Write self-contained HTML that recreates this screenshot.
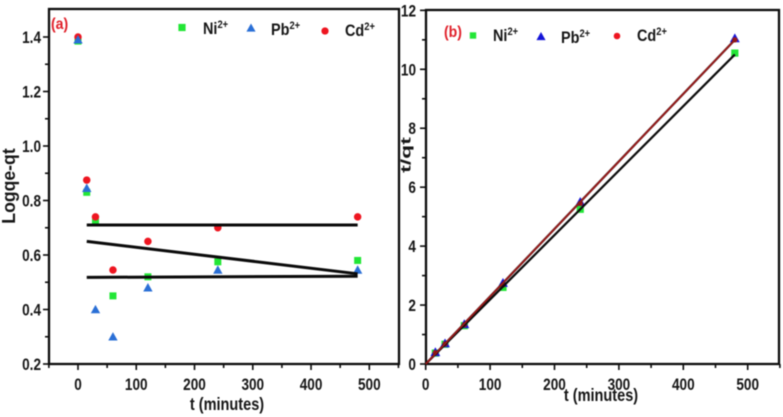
<!DOCTYPE html>
<html>
<head>
<meta charset="utf-8">
<style>
html,body{margin:0;padding:0;background:#fff;width:783px;height:417px;overflow:hidden}
svg{display:block;filter:blur(0.45px)}
text{font-family:"Liberation Sans",sans-serif;font-weight:700;fill:#161616}
</style>
</head>
<body>
<svg id="chart" width="783" height="417" viewBox="0 0 783 417" xmlns="http://www.w3.org/2000/svg"></svg>
<script>
const timesA = [0, 15, 30, 60, 120, 240, 480];
const niA = [1.385, 0.83, 0.72, 0.45, 0.52, 0.575, 0.58];
const pbA = [1.39, 0.845, 0.40, 0.30, 0.48, 0.545, 0.545];
const cdA = [1.40, 0.875, 0.74, 0.545, 0.65, 0.70, 0.74];
const fitTimesA = [15, 480];
const fitCdA = [0.71, 0.71];
const fitNiA = [0.65, 0.531];
const fitPbA = [0.518, 0.522];
const xTicksA = [0, 100, 200, 300, 400, 500];
const xMinorA = [-50, 50, 150, 250, 350, 450, 550];
const yTicksA = [0.2, 0.4, 0.6, 0.8, 1.0, 1.2, 1.4];
const yMinorA = [0.3, 0.5, 0.7, 0.9, 1.1, 1.3];

const timesB = [15, 30, 60, 120, 240, 480];
const niB = [0.37, 0.67, 1.3, 2.6, 5.25, 10.55];
const pbB = [0.4, 0.7, 1.35, 2.75, 5.5, 11.05];
const cdB = [0.38, 0.68, 1.33, 2.68, 5.45, 11.0];
const fitTimesB = [0, 480];
const fitNiB = [0, 10.5];
const fitPbB = [0, 11.0];
const fitCdB = [0, 11.0];
const xTicksB = [0, 100, 200, 300, 400, 500];
const xMinorB = [50, 150, 250, 350, 450, 550];
const yTicksB = [0, 2, 4, 6, 8, 10, 12];
const yMinorB = [1, 3, 5, 7, 9, 11];

const svg = document.getElementById('chart');
const NS = 'http://www.w3.org/2000/svg';

function make(tag, props, parent) {
  const el = document.createElementNS(NS, tag);
  for (const k in props) el.setAttribute(k, props[k]);
  (parent || svg).appendChild(el);
  return el;
}
function named(el, name) {
  
  
  return el;
}
function marker(kind, cx, cy, color, size, name) {
  let el;
  if (kind === 'square') {
    el = make('rect', {x: cx - size, y: cy - size, width: size * 2, height: size * 2, fill: color});
  } else if (kind === 'triangle') {
    const h = size * 1.2;
    el = make('polygon', {points: `${cx},${cy - h} ${cx + h},${cy + h * 0.8} ${cx - h},${cy + h * 0.8}`, fill: color});
  } else {
    el = make('circle', {cx: cx, cy: cy, r: size * 1.1, fill: color});
  }
  return named(el, name);
}
function label(str, x, y, size, anchor, name, color, squeeze) {
  const t = make('text', {x: 0, y: 0, 'font-size': size, 'text-anchor': anchor || 'start'});
  t.setAttribute('transform', `translate(${x},${y}) scale(${squeeze || 0.8},1)`);
  if (color) t.style.fill = color;
  t.textContent = str;
  return named(t, name);
}
function ionLabel(base, x, y, name) {
  const t = make('text', {x: 0, y: 0, 'font-size': 17});
  t.setAttribute('transform', `translate(${x},${y}) scale(0.85,1)`);
  t.textContent = base;
  const s = make('tspan', {dy: -6, 'font-size': 11}, t);
  s.textContent = '2+';
  return named(t, name);
}
function panel(cfg) {
  const sx = v => cfg.x0 + (v - cfg.xMin) * cfg.xScale;
  const sy = v => cfg.yBase - (v - cfg.yMin) * cfg.yScale;
  const id = cfg.id;

  const frame = make('rect', {x: cfg.left, y: cfg.top, width: cfg.right - cfg.left, height: cfg.yBase - cfg.top, fill: 'none', stroke: '#0c0c0c', 'stroke-width': 2.3});
  named(frame, 'plot-frame-' + id);

  cfg.xTicks.forEach(v => {
    const tick = make('line', {x1: sx(v), x2: sx(v), y1: cfg.yBase, y2: cfg.yBase + 6, stroke: '#0c0c0c', 'stroke-width': 1.6});
    named(tick, 'x-tick-' + id);
    label(String(v), sx(v), 390, 17, 'middle', 'x-tick-label-' + id);
  });
  cfg.xMinor.forEach(v => {
    const tick = make('line', {x1: sx(v), x2: sx(v), y1: cfg.yBase, y2: cfg.yBase + 4, stroke: '#0c0c0c', 'stroke-width': 1.6});
    named(tick, 'x-minor-tick-' + id);
  });
  cfg.yTicks.forEach(v => {
    const tick = make('line', {x1: cfg.left - 6, x2: cfg.left, y1: sy(v), y2: sy(v), stroke: '#0c0c0c', 'stroke-width': 1.6});
    named(tick, 'y-tick-' + id);
    label(cfg.yFormat(v), cfg.left - cfg.labelGap, sy(v) + 6, 17, 'end', 'y-tick-label-' + id);
  });
  cfg.yMinor.forEach(v => {
    const tick = make('line', {x1: cfg.left - 4, x2: cfg.left, y1: sy(v), y2: sy(v), stroke: '#0c0c0c', 'stroke-width': 1.6});
    named(tick, 'y-minor-tick-' + id);
  });

  cfg.series.forEach(s => {
    s.values.forEach((v, i) => {
      marker(s.kind, sx(s.times[i]), sy(v), s.color, s.size, s.name + '-point-' + id);
    });
  });
  cfg.fits.forEach(f => {
    const path = make('polyline', {
      points: f.times.map((t, i) => sx(t) + ',' + sy(f.values[i])).join(' '),
      fill: 'none', stroke: f.color, 'stroke-width': f.width
    });
    named(path, f.name + '-fit-line-' + id);
  });
}

panel({
  id: 'a', left: 49, right: 399, top: 9, yBase: 364, labelGap: 8,
  x0: 78, xMin: 0, xScale: 0.5826, yMin: 0.2, yScale: 272.5,
  xTicks: xTicksA, xMinor: xMinorA, yTicks: yTicksA, yMinor: yMinorA,
  yFormat: v => v.toFixed(1),
  series: [
    {name: 'ni', kind: 'square', color: '#22e636', size: 3.5, times: timesA, values: niA},
    {name: 'cd', kind: 'circle', color: '#ee1520', size: 3.4, times: timesA, values: cdA},
    {name: 'pb', kind: 'triangle', color: '#2a6fd6', size: 3.9, times: timesA, values: pbA}
  ],
  fits: [
    {name: 'cd', color: '#0a0a0a', width: 3, times: fitTimesA, values: fitCdA},
    {name: 'ni', color: '#0a0a0a', width: 3, times: fitTimesA, values: fitNiA},
    {name: 'pb', color: '#0a0a0a', width: 3, times: fitTimesA, values: fitPbA}
  ]
});

panel({
  id: 'b', left: 426, right: 779, top: 10, yBase: 364, labelGap: 10,
  x0: 425.7, xMin: 0, xScale: 0.644, yMin: 0, yScale: 29.47,
  xTicks: xTicksB, xMinor: xMinorB, yTicks: yTicksB, yMinor: yMinorB,
  yFormat: v => String(v),
  series: [
    {name: 'ni', kind: 'square', color: '#22e636', size: 3.6, times: timesB, values: niB},
    {name: 'pb', kind: 'triangle', color: '#1414d8', size: 4.1, times: timesB, values: pbB},
    {name: 'cd', kind: 'circle', color: '#a01818', size: 2.4, times: timesB, values: cdB}
  ],
  fits: [
    {name: 'ni', color: '#0a0a0a', width: 2.2, times: fitTimesB, values: fitNiB},
    {name: 'pb', color: '#0a0a0a', width: 2.2, times: fitTimesB, values: fitPbB},
    {name: 'cd', color: '#9c1a1a', width: 1.8, times: fitTimesB, values: fitCdB}
  ]
});

label('(a)', 51, 29, 16, 'start', 'panel-label-a', '#e0202a', 0.88);
label('(b)', 444, 37, 16, 'start', 'panel-label-b', '#e0202a', 0.88);

marker('square', 182, 27.5, '#22e636', 3.6, 'legend-marker-ni-a');
ionLabel('Ni', 203, 34, 'legend-entry-ni-a');
marker('triangle', 251, 28, '#2a6fd6', 3.8, 'legend-marker-pb-a');
ionLabel('Pb', 271, 35, 'legend-entry-pb-a');
marker('circle', 325, 31, '#ee1520', 3.3, 'legend-marker-cd-a');
ionLabel('Cd', 345, 36, 'legend-entry-cd-a');

marker('square', 473, 35.5, '#22e636', 3.2, 'legend-marker-ni-b');
ionLabel('Ni', 493, 41, 'legend-entry-ni-b');
marker('triangle', 541, 36.5, '#1414d8', 3.8, 'legend-marker-pb-b');
ionLabel('Pb', 561, 43, 'legend-entry-pb-b');
marker('circle', 617, 36, '#ee1520', 3, 'legend-marker-cd-b');
ionLabel('Cd', 637, 41, 'legend-entry-cd-b');

label('t (minutes)', 227, 410, 17.5, 'middle', 'x-axis-title-a', null, 0.83);
label('t (minutes)', 601, 401, 17.5, 'middle', 'x-axis-title-b', null, 0.83);

const yTitleA = label('Logqe-qt', 0, 0, 18, 'middle', 'y-axis-title-a');
yTitleA.setAttribute('transform', 'translate(15,186) rotate(-90) scale(0.98,1)');
const yTitleB = label('t/qt', 0, 0, 13.5, 'middle', 'y-axis-title-b');
yTitleB.setAttribute('transform', 'translate(410.5,155) rotate(-90) scale(1.7,1)');
</script>
</body>
</html>
